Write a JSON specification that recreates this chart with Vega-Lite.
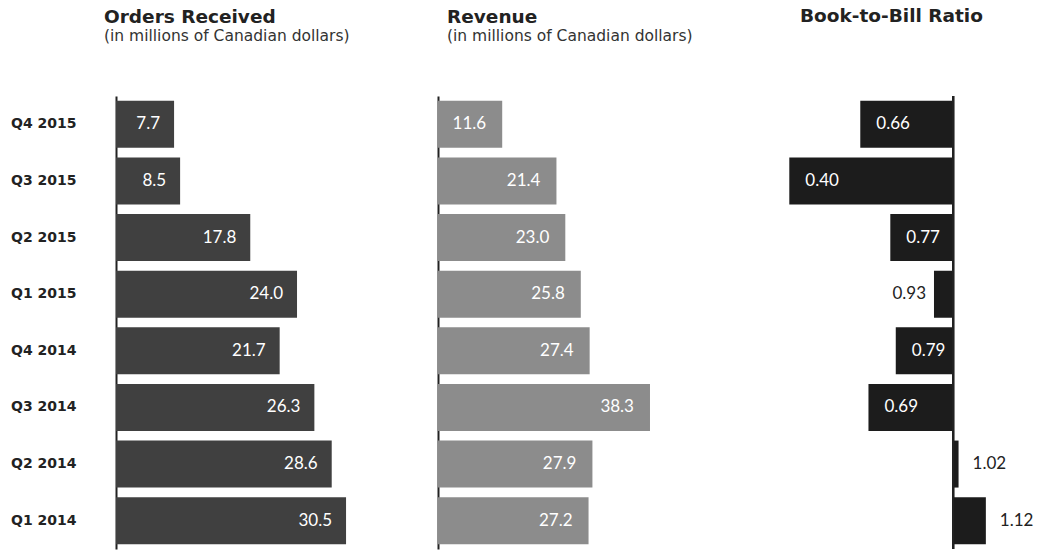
{
  "$schema": "https://vega.github.io/schema/vega-lite/v6.json",
  "padding": {"left": 10, "top": 6, "right": 5, "bottom": 2},
  "config": {
    "view": {"stroke": null},
    "font": "Lato",
    "axis": {"grid": false},
    "title": {"font": "DejaVu Sans", "fontSize": 18.5, "fontWeight": "bold", "color": "#222222", "subtitleFont": "DejaVu Sans", "subtitleFontSize": 15.5, "subtitleColor": "#333333", "subtitlePadding": 3, "anchor": "start", "frame": "group"}
  },
  "data": {"values": [
    {"q": "Q4 2015", "orders": 7.7, "revenue": 11.6, "ratio": 0.66},
    {"q": "Q3 2015", "orders": 8.5, "revenue": 21.4, "ratio": 0.40},
    {"q": "Q2 2015", "orders": 17.8, "revenue": 23.0, "ratio": 0.77},
    {"q": "Q1 2015", "orders": 24.0, "revenue": 25.8, "ratio": 0.93},
    {"q": "Q4 2014", "orders": 21.7, "revenue": 27.4, "ratio": 0.79},
    {"q": "Q3 2014", "orders": 26.3, "revenue": 38.3, "ratio": 0.69},
    {"q": "Q2 2014", "orders": 28.6, "revenue": 27.9, "ratio": 1.02},
    {"q": "Q1 2014", "orders": 30.5, "revenue": 27.2, "ratio": 1.12}
  ]},
  "hconcat": [
    {
      "width": 310, "height": 453,
      "title": {"text": "Orders Received", "subtitle": "(in millions of Canadian dollars)", "dx": -12, "offset": 51.5},
      "encoding": {
        "y": {"field": "q", "type": "nominal", "sort": null, "scale": {"paddingInner": 0.17, "paddingOuter": 0.085},
          "axis": {"title": null, "ticks": false, "tickSize": 0, "labelPadding": 40, "labelFontWeight": "bold", "labelFontSize": 14, "labelColor": "#222222", "labelFont": "DejaVu Sans", "domainColor": "#222222", "domainWidth": 2}},
        "x": {"field": "orders", "type": "quantitative", "scale": {"domain": [0, 41.1]}, "axis": null}
      },
      "layer": [
        {"mark": {"type": "bar", "color": "#404040"}},
        {"mark": {"type": "text", "align": "right", "dx": -14, "color": "#ffffff", "fontSize": 17}, "encoding": {"text": {"field": "orders", "format": ".1f"}}}
      ]
    },
    {
      "width": 312, "height": 453,
      "title": {"text": "Revenue", "subtitle": "(in millions of Canadian dollars)", "dx": 9, "offset": 51.5},
      "encoding": {
        "y": {"field": "q", "type": "nominal", "sort": null, "scale": {"paddingInner": 0.17, "paddingOuter": 0.085},
          "axis": {"title": null, "ticks": false, "labels": false, "domainColor": "#222222", "domainWidth": 2}},
        "x": {"field": "revenue", "type": "quantitative", "scale": {"domain": [0, 56.37]}, "axis": null}
      },
      "layer": [
        {"mark": {"type": "bar", "color": "#8c8c8c"}},
        {"mark": {"type": "text", "align": "right", "dx": -16, "color": "#ffffff", "fontSize": 17}, "encoding": {"text": {"field": "revenue", "format": ".1f"}}}
      ]
    },
    {
      "width": 268, "height": 453,
      "title": {"text": "Book-to-Bill Ratio", "dx": 38, "offset": 70},
      "encoding": {
        "y": {"field": "q", "type": "nominal", "sort": null, "scale": {"paddingInner": 0.17, "paddingOuter": 0.085}, "axis": null},
        "x": {"field": "ratio", "type": "quantitative", "scale": {"domain": [0.3, 1.2817]}, "axis": null}
      },
      "layer": [
        {"mark": {"type": "bar", "color": "#1c1c1c"}, "encoding": {"x2": {"datum": 1}}},
        {"mark": {"type": "rule", "color": "#222222", "strokeWidth": 2}, "encoding": {"x": {"datum": 1}, "y": null}},
        {"transform": [{"filter": "datum.ratio < 0.9"}], "mark": {"type": "text", "align": "left", "dx": 16, "color": "#ffffff", "fontSize": 17}, "encoding": {"text": {"field": "ratio", "format": ".2f"}}},
        {"transform": [{"filter": "datum.ratio >= 0.9 && datum.ratio < 1"}], "mark": {"type": "text", "align": "right", "dx": -8, "color": "#222222", "fontSize": 17}, "encoding": {"text": {"field": "ratio", "format": ".2f"}}},
        {"transform": [{"filter": "datum.ratio > 1"}], "mark": {"type": "text", "align": "left", "dx": 14, "color": "#222222", "fontSize": 17}, "encoding": {"text": {"field": "ratio", "format": ".2f"}}}
      ]
    }
  ],
  "spacing": 12
}
